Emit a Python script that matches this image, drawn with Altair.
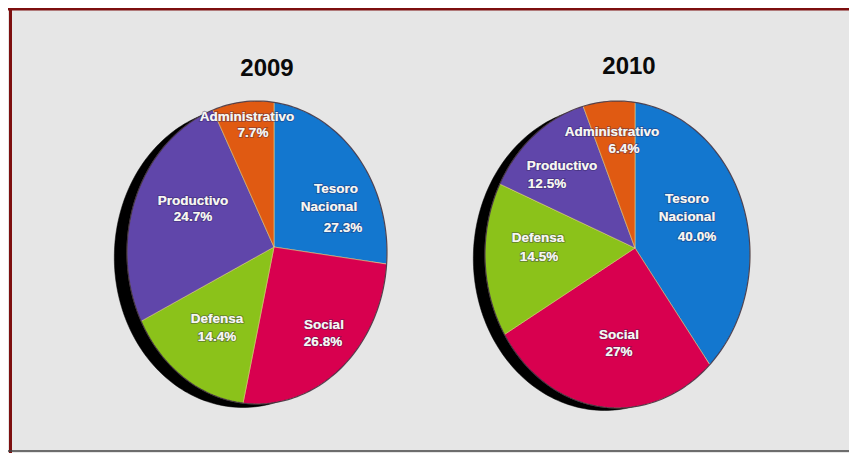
import numpy as np
import altair as alt

CATEGORIES = ["Tesoro Nacional", "Social", "Defensa", "Productivo", "Administrativo"]
COLORS = ["#1377cf", "#d8004f", "#8bc21a", "#6046aa", "#e05a12"]
YEARS = ["2009", "2010"]
VALUES_2009 = [27.3, 26.8, 14.4, 24.7, 7.7]
VALUES_2010 = [40.0, 27.0, 14.5, 12.5, 6.4]

LABELS_2009 = [("Administrativo", 239, 109), ("7.7%", 245, 125), ("Tesoro", 328, 181),
               ("Nacional", 321, 199), ("27.3%", 335, 220), ("Productivo", 185, 193),
               ("24.7%", 185, 209), ("Defensa", 209, 311), ("14.4%", 209, 329),
               ("Social", 316, 317), ("26.8%", 315, 334)]
LABELS_2010 = [("Administrativo", 604, 124), ("6.4%", 616, 141), ("Tesoro", 679, 191),
               ("Nacional", 679, 209), ("40.0%", 689, 229), ("Productivo", 554, 158),
               ("12.5%", 539, 176), ("Defensa", 530, 230), ("14.5%", 531, 249),
               ("Social", 611, 327), ("27%", 611, 344)]

# Pie layout: a disc seen at an angle, so an ellipse with an off-centre hub.
PIES = {
    "2009": dict(values=VALUES_2009, cx=249, cy=244.5, a=130, b=151.5, hx=266, hy=239,
                 title=(259, 61), labels=LABELS_2009, shadow=(-14, 5, 0.99)),
    "2010": dict(values=VALUES_2010, cx=609.5, cy=246.5, a=132.5, b=153.5, hx=627, hy=240,
                 title=(621, 59), labels=LABELS_2010, shadow=(-13, 4, 0.99)),
}
W, H = 841, 445
BG = "#e6e6e6"
GEO = dict(type="identity", scale=1, translate=[0, 0])


def rim_point(p, theta):
    dx, dy = p["a"] * np.sin(theta), -p["b"] * np.cos(theta)
    ox, oy = (p["hx"] - p["cx"]) / p["a"], (p["hy"] - p["cy"]) / p["b"]
    ux, uy = dx / p["a"], dy / p["b"]
    A, B, C = ux**2 + uy**2, 2 * (ox * ux + oy * uy), ox**2 + oy**2 - 1
    t = (-B + np.sqrt(B**2 - 4 * A * C)) / (2 * A)
    return [float(p["hx"] + t * dx), float(p["hy"] + t * dy)]


def feature(ring, name):
    return {"type": "Feature", "properties": {"name": name},
            "geometry": {"type": "Polygon", "coordinates": [ring]}}


def slices(p):
    total = sum(p["values"])
    edges = np.cumsum([0] + p["values"]) / total * 2 * np.pi
    out = []
    for name, a0, a1 in zip(CATEGORIES, edges[:-1], edges[1:]):
        steps = np.linspace(a0, a1, max(int((a1 - a0) * 60), 2))
        hub = [p["hx"], p["hy"]]
        out.append(feature([hub] + [rim_point(p, t) for t in steps] + [hub], name))
    return out


def ellipse(cx, cy, a, b, name):
    ts = np.linspace(0, 2 * np.pi, 241)
    return feature([[float(cx + a * np.sin(t)), float(cy - b * np.cos(t))] for t in ts], name)


layers = [
    alt.Chart(alt.Data(values=[{"a": 1}])).mark_rule(color="#7d0f0f", strokeWidth=3).encode(
        x=alt.value(0), x2=alt.value(W), y=alt.value(1)),
    alt.Chart(alt.Data(values=[{"a": 1}])).mark_rule(color="#7d0f0f", strokeWidth=3).encode(
        x=alt.value(2.5), y=alt.value(0), y2=alt.value(H)),
    alt.Chart(alt.Data(values=[{"a": 1}])).mark_rule(color="#444444", strokeWidth=1.5).encode(
        x=alt.value(0), x2=alt.value(W), y=alt.value(H - 2)),
]

for year in YEARS:
    p = PIES[year]
    sx, sy, k = p["shadow"]
    shadow = ellipse(p["cx"] + sx, p["cy"] + sy, p["a"] * k, p["b"] * k, "shadow")
    layers.append(alt.Chart(alt.Data(values=[shadow])).mark_geoshape(
        fill="#000000", stroke="#000000", strokeWidth=0.5).project(**GEO))
    layers.append(alt.Chart(alt.Data(values=slices(p))).mark_geoshape(
        stroke="#e9d98a", strokeWidth=0.8, strokeOpacity=0.7).encode(
        color=alt.Color("properties.name:N", legend=None,
                        scale=alt.Scale(domain=CATEGORIES, range=COLORS))).project(**GEO))
    rim = ellipse(p["cx"], p["cy"], p["a"], p["b"], "rim")
    layers.append(alt.Chart(alt.Data(values=[rim])).mark_geoshape(
        filled=False, stroke="#2a1a3a", strokeWidth=1.2, strokeOpacity=0.75).project(**GEO))
    for text, x, y in p["labels"]:
        layers.append(alt.Chart(alt.Data(values=[{"t": text}])).mark_text(
            font="Liberation Sans", fontSize=13.5, fontWeight="bold", stroke="#2a2050",
            strokeWidth=2, strokeOpacity=0.35, baseline="middle", align="center",
            color="#ffffff").encode(x=alt.value(x), y=alt.value(y), text="t:N"))
        layers.append(alt.Chart(alt.Data(values=[{"t": text}])).mark_text(
            font="Liberation Sans", fontSize=13.5, fontWeight="bold", baseline="middle",
            align="center", color="#f7f7f2").encode(x=alt.value(x), y=alt.value(y), text="t:N"))
    tx, ty = p["title"]
    layers.append(alt.Chart(alt.Data(values=[{"t": year}])).mark_text(
        font="Liberation Sans", fontSize=24, fontWeight="bold", baseline="middle",
        align="center", color="#0a0a0a").encode(x=alt.value(tx), y=alt.value(ty), text="t:N"))

chart = alt.layer(*layers).properties(
    width=W, height=H, padding=0, background=BG,
    autosize=alt.AutoSizeParams(type="none"),
).configure_view(stroke=None)

chart.save("out.html", embed_options={"renderer": "svg", "actions": False})
